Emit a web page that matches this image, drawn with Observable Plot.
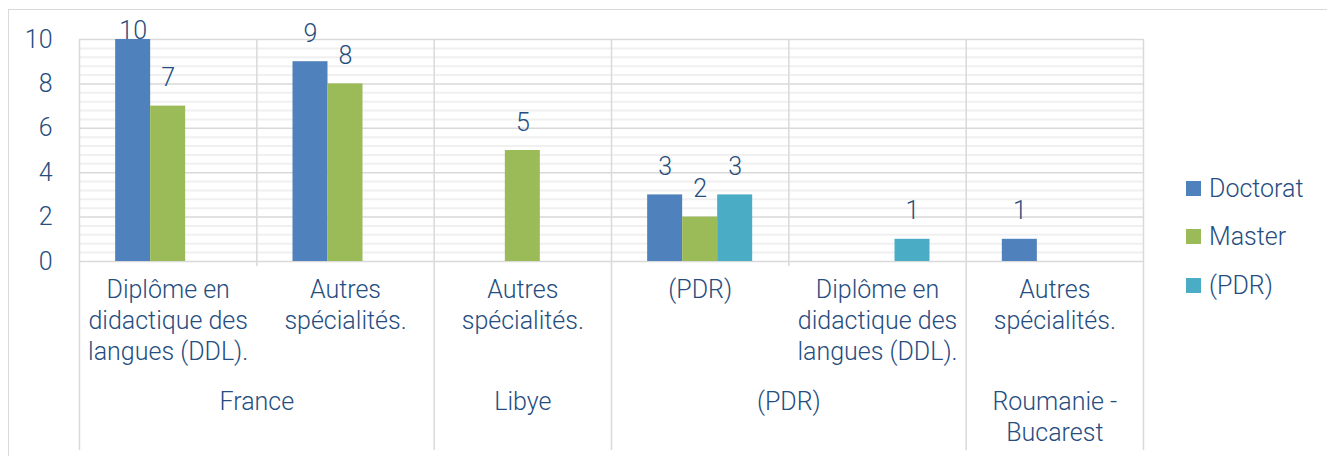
<!DOCTYPE html>
<html><head><meta charset="utf-8">
<script src="https://cdn.jsdelivr.net/npm/d3@7"></script>
<script src="https://cdn.jsdelivr.net/npm/@observablehq/plot@0.6"></script>
<style>
body{margin:0;background:#fff;overflow:hidden;width:1327px;height:456px;position:relative;font-family:Roboto,sans-serif;}
#frame{position:absolute;left:8px;top:9px;width:2000px;height:1000px;border:1.5px solid #d9d9d9;}
#chart{position:absolute;left:0;top:0}
#legend{position:absolute;left:1186px;top:0;}
.item{position:absolute;left:0;display:flex;align-items:center;white-space:nowrap;color:#264d80;font-size:25px;font-weight:300;}
.sw{width:15px;height:15px;margin-right:8px;}
</style></head><body>
<div id="frame"></div><div id="chart"></div><div id="legend"></div>
<script>
// ---- data ----
const subcategories = [
  "Diplôme en\ndidactique des\nlangues (DDL).",
  "Autres\nspécialités.",
  "Autres\nspécialités.",
  "(PDR)",
  "Diplôme en\ndidactique des\nlangues (DDL).",
  "Autres\nspécialités."
];
const groups = ["France", "France", "Libye", "(PDR)", "(PDR)", "Roumanie -\nBucarest"];
const seriesNames = ["Doctorat", "Master", "(PDR)"];
const doctorat = [10, 9, null, 3, null, 1];
const master = [7, 8, 5, 2, null, null];
const pdr = [null, null, null, 3, 1, null];
const yTicks = [0, 2, 4, 6, 8, 10];

// ---- styles ----
const colors = ["#4f81bd", "#9bbb59", "#4bacc6"];
const textColor = "#264d80";
const gridMajor = "#d9d9d9";
const gridMinor = "#f0f0f0";
const barFrac = 0.1974; // bar width as fraction of a category
const n = subcategories.length;

const seriesValues = [doctorat, master, pdr];
const rows = [];
subcategories.forEach((s, i) => {
  seriesValues.forEach((vals, k) => {
    const v = vals[i];
    if (v != null) {
      const x1 = i + 0.5 + (k - 1.5) * barFrac;
      rows.push({i, series: seriesNames[k], value: v, x1, x2: x1 + barFrac, xc: x1 + barFrac / 2});
    }
  });
});

// group spans
const groupSpans = [];
groups.forEach((g, i) => {
  const last = groupSpans[groupSpans.length - 1];
  if (last && last.name === g) last.end = i + 1;
  else groupSpans.push({name: g, start: i, end: i + 1});
});
const outerBounds = [0, ...groupSpans.map(d => d.end)];
const innerBounds = d3.range(1, n).filter(b => !outerBounds.includes(b));
const minorTicks = d3.range(0, 10.001, 0.4).filter(t => Math.abs(t / 2 - Math.round(t / 2)) > 1e-6);

const chart = Plot.plot({
  width: 1327,
  height: 456,
  marginLeft: 79,
  marginRight: 184,
  marginTop: 39,
  marginBottom: 195,
  style: {fontFamily: "Roboto, sans-serif", fontSize: "25px", fontWeight: 300, color: textColor, background: "transparent", overflow: "visible"},
  x: {domain: [0, n], axis: null},
  y: {domain: [0, 10], ticks: yTicks, tickSize: 0, tickPadding: 27, label: null, tickFormat: d => String(d)},
  color: {domain: seriesNames, range: colors},
  marks: [
    Plot.ruleY(minorTicks, {stroke: gridMinor, strokeWidth: 2}),
    Plot.ruleY(yTicks, {stroke: gridMajor, strokeWidth: 1.5}),
    Plot.ruleX(outerBounds, {stroke: gridMajor, strokeWidth: 1.5, insetBottom: -189}),
    Plot.ruleX(innerBounds, {stroke: gridMajor, strokeWidth: 1.5, insetBottom: -5}),
    Plot.rectY(rows, {x1: "x1", x2: "x2", y: "value", fill: "series"}),
    Plot.text(rows, {x: "xc", y: d => Math.min(d.value + 1.26, 10.4), text: d => String(d.value), fill: textColor, fontSize: 25, fontWeight: 300}),
    Plot.text(subcategories.map((s, i) => ({s, x: i + 0.5})), {x: "x", frameAnchor: "bottom", text: "s", lineAnchor: "top", dy: 14.5, lineHeight: 1.24, fill: textColor, fontSize: 25, fontWeight: 300}),
    Plot.text(groupSpans, {x: d => (d.start + d.end) / 2, frameAnchor: "bottom", text: "name", lineAnchor: "top", dy: 126, lineHeight: 1.24, fill: textColor, fontSize: 25, fontWeight: 300})
  ]
});
document.getElementById("chart").appendChild(chart);

// legend
const legendTops = [188, 236.5, 285];
const legend = document.getElementById("legend");
seriesNames.forEach((s, k) => {
  const it = document.createElement("div");
  it.className = "item";
  it.style.top = (legendTops[k] - 15) + "px";
  it.style.height = "30px";
  it.innerHTML = `<span class="sw" style="background:${colors[k]}"></span><span>${s}</span>`;
  legend.appendChild(it);
});
</script>
</body></html>
